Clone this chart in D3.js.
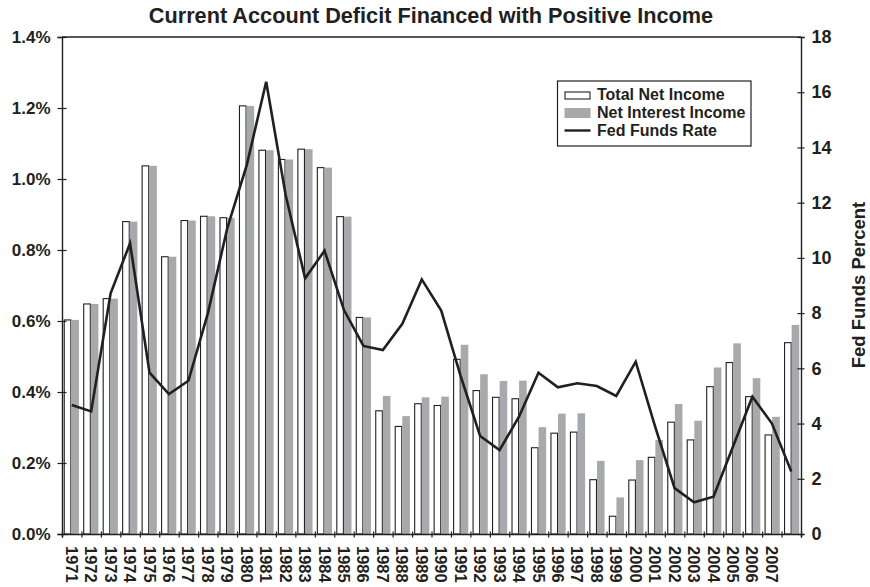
<!DOCTYPE html>
<html><head><meta charset="utf-8">
<script src="https://cdn.jsdelivr.net/npm/d3@7"></script>
<style>
html,body{margin:0;padding:0;background:#fff;}
text{font-family:"Liberation Sans",Arial,Helvetica,sans-serif;font-weight:bold;fill:#231f20;}
</style></head>
<body>
<svg id="chart" width="870" height="587"></svg>
<script>
const years = ["1971","1972","1973","1974","1975","1976","1977","1978","1979","1980","1981","1982","1983","1984","1985","1986","1987","1988","1989","1990","1991","1992","1993","1994","1995","1996","1997","1998","1999","2000","2001","2002","2003","2004","2005","2006","2007","2008"];
const yearLabels = ["1971","1972","1973","1974","1975","1976","1977","1978","1979","1980","1981","1982","1983","1984","1985","1986","1987","1988","1989","1990","1991","1992","1993","1994","1995","1996","1997","1998","1999","2000","2001","2002","2003","2004","2005","2006","2007",""];
// percent of GDP
const totalNetIncome = [0.603,0.648,0.663,0.880,1.037,0.781,0.883,0.895,0.891,1.206,1.081,1.055,1.084,1.032,0.894,0.610,0.347,0.303,0.367,0.362,0.492,0.404,0.385,0.381,0.243,0.284,0.287,0.153,0.050,0.152,0.216,0.315,0.265,0.415,0.483,0.387,0.279,0.539];
const netInterestIncome = [0.603,0.648,0.663,0.880,1.037,0.781,0.883,0.895,0.891,1.206,1.081,1.055,1.084,1.032,0.894,0.610,0.389,0.332,0.385,0.387,0.533,0.450,0.431,0.432,0.301,0.339,0.340,0.206,0.103,0.208,0.265,0.366,0.319,0.469,0.537,0.439,0.330,0.589];
// percent
const fedFundsRate = [4.67,4.44,8.72,10.53,5.84,5.07,5.55,7.99,11.08,13.36,16.38,12.28,9.26,10.26,8.11,6.81,6.66,7.61,9.22,8.09,5.72,3.55,3.04,4.25,5.84,5.31,5.46,5.36,5.00,6.24,3.89,1.66,1.15,1.35,3.16,4.97,4.01,2.26];
const leftTicks = [0,0.2,0.4,0.6,0.8,1.0,1.2,1.4];
const rightTicks = [0,2,4,6,8,10,12,14,16,18];
const seriesNames = ["Total Net Income","Net Interest Income","Fed Funds Rate"];
const titleText = "Current Account Deficit Financed with Positive Income";
const rightAxisTitle = "Fed Funds Percent";

const svg = d3.select("#chart");
const L = 62, R = 801, T = 37, B = 534;
const ink = "#231f20", grayFill = "#a7a9ac";
const n = years.length;

const x = d3.scaleBand().domain(years).range([L, R]).paddingInner(0.22).paddingOuter(0.09);
const xSub = d3.scaleBand().domain(["total","interest"]).range([0, x.bandwidth()]).padding(0);
const xLin = d3.scaleLinear().domain([0, n]).range([L, R]);
const yL = d3.scaleLinear().domain([0, 1.4]).range([B, T]);
const yR = d3.scaleLinear().domain([0, 18]).range([B, T]);

// title
svg.append("text").attr("x", 431).attr("y", 23).attr("text-anchor", "middle")
  .style("font-size", "21.7px").text(titleText);

// bars
const g = svg.append("g");
g.selectAll("rect.tot").data(years).join("rect").attr("class","tot")
  .attr("x", d => x(d) + xSub("total") + 0.5)
  .attr("y", (d,i) => yL(totalNetIncome[i]))
  .attr("width", xSub.bandwidth() - 1)
  .attr("height", (d,i) => B - yL(totalNetIncome[i]))
  .attr("fill", "#fff").attr("stroke", ink).attr("stroke-width", 1.1);
g.selectAll("rect.int").data(years).join("rect").attr("class","int")
  .attr("x", d => x(d) + xSub("interest"))
  .attr("y", (d,i) => yL(netInterestIncome[i]))
  .attr("width", xSub.bandwidth())
  .attr("height", (d,i) => B - yL(netInterestIncome[i]))
  .attr("fill", grayFill);

// line
const line = d3.line().x((d,i) => xLin(i + 0.5)).y(d => yR(d));
svg.append("path").datum(fedFundsRate).attr("d", line)
  .attr("fill", "none").attr("stroke", ink).attr("stroke-width", 2.6).attr("stroke-linejoin", "miter");

// frame top
svg.append("line").attr("x1", L).attr("x2", R).attr("y1", T).attr("y2", T)
  .attr("stroke", ink).attr("stroke-width", 1.3);

// left axis
const ax1 = svg.append("g").attr("transform", `translate(${L},0)`)
  .call(d3.axisLeft(yL).tickValues(leftTicks).tickSize(4.5).tickPadding(7)
    .tickFormat(d => d3.format(".1f")(d) + "%"));
ax1.selectAll(".tick line").attr("x1", 4.5);
// right axis
const ax2 = svg.append("g").attr("transform", `translate(${R},0)`)
  .call(d3.axisRight(yR).tickValues(rightTicks).tickSize(3.5).tickPadding(7));
ax2.selectAll(".tick line").attr("x1", -3.5);
// bottom axis
const ax3 = svg.append("g").attr("transform", `translate(0,${B})`)
  .call(d3.axisBottom(xLin).tickValues(d3.range(n + 1)).tickSize(3.5).tickFormat(""));
ax3.selectAll(".tick line").attr("y1", -2.5);

[ax1, ax2, ax3].forEach(a => {
  a.select(".domain").attr("stroke", ink).attr("stroke-width", 1.4);
  a.selectAll(".tick line").attr("stroke", ink).attr("stroke-width", 1.2);
  a.selectAll(".tick text").attr("fill", ink)
    .style("font-family", '"Liberation Sans",Arial,sans-serif').style("font-weight", "bold");
});
ax1.selectAll(".tick text").style("font-size", "17px");
ax2.selectAll(".tick text").style("font-size", "18px");

// year labels
svg.append("g").selectAll("text").data(years).join("text")
  .attr("transform", (d,i) => `translate(${xLin(i + 0.5)},${546})rotate(90)`)
  .attr("dy", "0.36em")
  .style("font-size", "16.5px")
  .text((d,i) => yearLabels[i]);

// right axis title
svg.append("text").attr("transform", "translate(865,285)rotate(-90)")
  .attr("text-anchor", "middle").style("font-size", "18.5px").text(rightAxisTitle);

// legend
const lg = svg.append("g");
lg.append("rect").attr("x", 557.5).attr("y", 81).attr("width", 193.5).attr("height", 65)
  .attr("fill", "#fff").attr("stroke", ink).attr("stroke-width", 1.2);
lg.append("rect").attr("x", 565).attr("y", 92).attr("width", 25).attr("height", 7)
  .attr("fill", "#fff").attr("stroke", ink).attr("stroke-width", 1.1);
lg.append("rect").attr("x", 564.5).attr("y", 108).attr("width", 26).attr("height", 10)
  .attr("fill", grayFill);
lg.append("line").attr("x1", 564.5).attr("x2", 590.5).attr("y1", 130.5).attr("y2", 130.5)
  .attr("stroke", ink).attr("stroke-width", 2.4);
lg.selectAll("text.lt").data(seriesNames).join("text").attr("class","lt")
  .attr("x", 597).attr("y", (d,i) => 100 + i * 18)
  .style("font-size", "16px").text(d => d);
</script>
</body></html>
